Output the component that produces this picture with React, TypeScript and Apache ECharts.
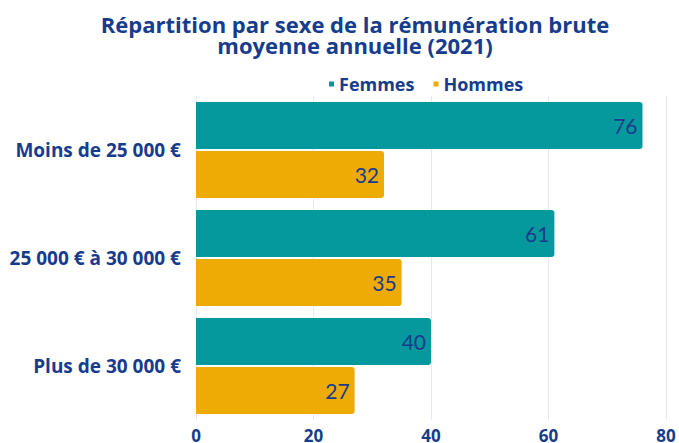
import React, { useEffect, useRef } from "react";
import * as echarts from "echarts";

const categories = ["Moins de 25 000 €", "25 000 € à 30 000 €", "Plus de 30 000 €"];
const femmes = [76, 61, 40];
const hommes = [32, 35, 27];
const seriesNames = ["Femmes", "Hommes"];
const titleText = "Répartition par sexe de la rémunération brute\nmoyenne annuelle (2021)";

const DARK = "#173c8d";
const TEAL = "#05989c";
const ORANGE = "#eeaa05";

export default function App() {
  const ref = useRef<HTMLDivElement>(null);
  useEffect(() => {
    if (!ref.current) return;
    const chart = echarts.init(ref.current, null, { renderer: "svg" });
    const label = {
      show: true,
      position: "insideRight",
      distance: 5,
      color: DARK,
      fontFamily: "Lato",
      fontSize: 21,
      fontWeight: "normal",
    };
    chart.setOption({
      animation: false,
      backgroundColor: "#ffffff",
      title: {
        text: titleText,
        left: 350,
        textAlign: "center",
        top: 8,
        textStyle: {
          fontFamily: "Open Sans",
          fontWeight: "bold",
          fontSize: 22,
          lineHeight: 21,
          color: DARK,
        },
      },
      legend: {
        data: seriesNames,
        left: 324,
        top: 70,
        icon: "rect",
        itemWidth: 5,
        itemHeight: 5,
        itemGap: 19,
        textStyle: {
          fontFamily: "Open Sans",
          fontWeight: "bold",
          fontSize: 18,
          color: DARK,
        },
      },
      grid: {
        left: 196,
        right: 13,
        top: 96,
        bottom: 23,
        containLabel: false,
        outerBoundsMode: "none",
      },
      xAxis: {
        type: "value",
        min: 0,
        max: 80,
        interval: 20,
        axisLine: { show: false },
        axisTick: { show: false },
        splitLine: { show: true, lineStyle: { color: "#e3e8f4", width: 1 } },
        axisLabel: {
          margin: 7,
          fontFamily: "Open Sans",
          fontWeight: "bold",
          fontSize: 17,
          color: DARK,
        },
      },
      yAxis: {
        type: "category",
        data: categories,
        inverse: true,
        axisLine: { show: false },
        axisTick: { show: false },
        axisLabel: {
          margin: 15,
          fontFamily: "Open Sans",
          fontWeight: "bold",
          fontSize: 19,
          color: DARK,
        },
      },
      series: [
        {
          name: seriesNames[0],
          type: "bar",
          data: femmes,
          barWidth: 47,
          barGap: "4%",
          itemStyle: { color: TEAL, borderRadius: [0, 3, 3, 0] },
          label,
        },
        {
          name: seriesNames[1],
          type: "bar",
          data: hommes,
          barWidth: 47,
          barGap: "4%",
          itemStyle: { color: ORANGE, borderRadius: [0, 3, 3, 0] },
          label,
        },
      ],
    });
    return () => chart.dispose();
  }, []);
  return <div ref={ref} style={{ width: 679, height: 443, position: "fixed", left: 0, top: 0 }} />;
}
